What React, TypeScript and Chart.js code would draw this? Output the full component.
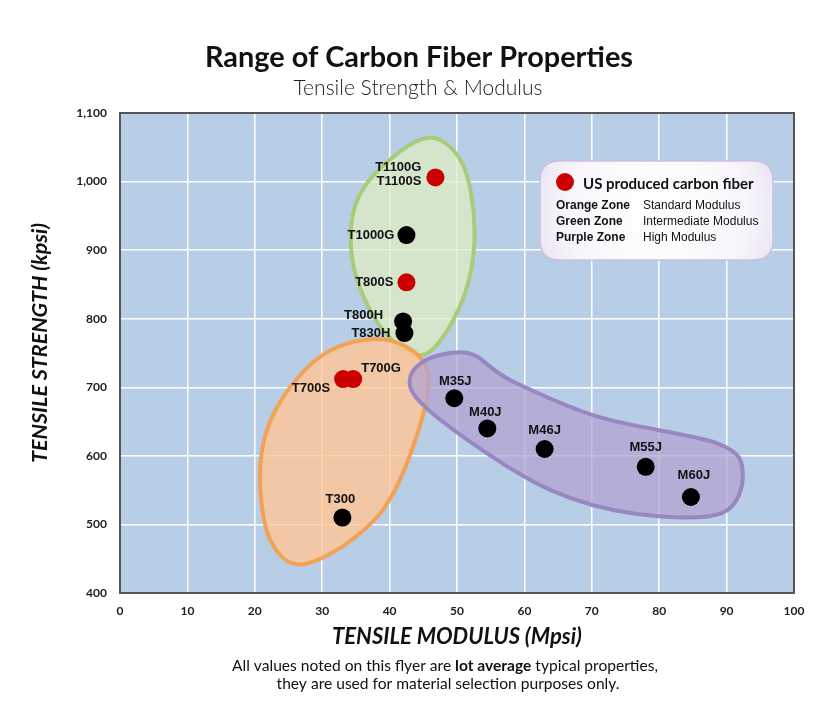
import React, { useEffect, useRef } from 'react';
import { Chart, registerables } from 'chart.js';

Chart.register(...registerables);

// ---- data ----
const fiberNames = ['T1100G\nT1100S', 'T1000G', 'T800S', 'T800H', 'T830H', 'T700S', 'T700G', 'T300', 'M35J', 'M40J', 'M46J', 'M55J', 'M60J'];
const tensileModulus = [46.8, 42.5, 42.5, 42.0, 42.2, 33.1, 34.6, 33.0, 49.6, 54.5, 63.0, 78.0, 84.7];
const tensileStrength = [1006, 922, 853, 796, 779, 712, 712, 510, 684, 640, 610, 584, 540];
const usProduced = [true, false, true, false, false, true, true, false, false, false, false, false, false];

const greenZoneX = [44.8, 50.6, 52.6, 50.8, 45.2, 38.8, 34.5, 35.8];
const greenZoneY = [1062, 1030, 929, 827, 748, 786, 885, 985];
const orangeZoneX = [39.0, 45.3, 44.6, 38.6, 27.8, 22.3, 20.8, 23.3, 30.2];
const orangeZoneY = [770, 732, 647, 516, 443, 477, 583, 671, 748];
const purpleZoneX = [44.6, 51.6, 58.0, 71.3, 88.7, 92.4, 89.2, 76.2, 63.9, 51.6, 43.5];
const purpleZoneY = [735, 750, 710, 656, 618, 575, 516, 516, 550, 623, 691];

const legendZones = ['Orange Zone', 'Green Zone', 'Purple Zone'];
const legendDescriptions = ['Standard Modulus', 'Intermediate Modulus', 'High Modulus'];

const titleText = 'Range of Carbon Fiber Properties';
const subtitleText = 'Tensile Strength & Modulus';
const xTitle = 'TENSILE MODULUS (Mpsi)';
const yTitle = 'TENSILE STRENGTH (kpsi)';

// ---- label placement (style, pixel offsets from the point) ----
const labelPlacement: [number, number, CanvasTextAlign][] = [
  [-14, -3, 'right'],
  [-12, 0, 'right'],
  [-13, 0, 'right'],
  [-20, -6, 'right'],
  [-14, 0, 'right'],
  [-13, 9, 'right'],
  [8, -11, 'left'],
  [-2, -18, 'center'],
  [1, -17, 'center'],
  [-2, -16, 'center'],
  [0, -19, 'center'],
  [0, -19, 'center'],
  [3, -22, 'center'],
];

const BG = '#b8cee6';

function fitFont(ctx: CanvasRenderingContext2D, text: string, weight: string, family: string, target: number, base: number) {
  ctx.font = `${weight} ${base}px ${family}`;
  const w = ctx.measureText(text).width;
  const size = base * target / w;
  return `${weight} ${size.toFixed(2)}px ${family}`;
}

function drawZone(chart: any, xs: number[], ys: number[], fill: string, stroke: string) {
  const { ctx, scales } = chart;
  const pts = xs.map((v, i) => ({ x: scales.x.getPixelForValue(v), y: scales.y.getPixelForValue(ys[i]) }));
  const n = pts.length;
  ctx.save();
  ctx.beginPath();
  ctx.moveTo(pts[0].x, pts[0].y);
  for (let i = 0; i < n; i++) {
    const p0 = pts[(i - 1 + n) % n], p1 = pts[i], p2 = pts[(i + 1) % n], p3 = pts[(i + 2) % n];
    ctx.bezierCurveTo(
      p1.x + (p2.x - p0.x) / 6, p1.y + (p2.y - p0.y) / 6,
      p2.x - (p3.x - p1.x) / 6, p2.y - (p3.y - p1.y) / 6,
      p2.x, p2.y
    );
  }
  ctx.closePath();
  ctx.fillStyle = fill;
  ctx.fill();
  ctx.lineWidth = 4;
  ctx.strokeStyle = stroke;
  ctx.stroke();
  ctx.restore();
}

function roundRect(ctx: CanvasRenderingContext2D, x: number, y: number, w: number, h: number, r: number) {
  ctx.beginPath();
  ctx.moveTo(x + r, y);
  ctx.lineTo(x + w - r, y);
  ctx.quadraticCurveTo(x + w, y, x + w, y + r);
  ctx.lineTo(x + w, y + h - r);
  ctx.quadraticCurveTo(x + w, y + h, x + w - r, y + h);
  ctx.lineTo(x + r, y + h);
  ctx.quadraticCurveTo(x, y + h, x, y + h - r);
  ctx.lineTo(x, y + r);
  ctx.quadraticCurveTo(x, y, x + r, y);
  ctx.closePath();
}

const decorPlugin = {
  id: 'decor',
  beforeDraw(chart: any) {
    const { ctx, chartArea: a } = chart;
    ctx.save();
    ctx.fillStyle = BG;
    ctx.fillRect(a.left, a.top, a.right - a.left, a.bottom - a.top);
    // titles
    ctx.fillStyle = '#111';
    ctx.textAlign = 'center';
    ctx.textBaseline = 'alphabetic';
    ctx.font = fitFont(ctx, titleText, 'bold', 'Lato', 428, 26);
    ctx.fillText(titleText, 419, 67);
    ctx.fillStyle = '#222';
    ctx.font = fitFont(ctx, subtitleText, '300', 'Lato', 249, 20);
    ctx.fillText(subtitleText, 418, 95);
    // y axis title
    ctx.save();
    ctx.translate(40, 343);
    ctx.rotate(-Math.PI / 2);
    ctx.textBaseline = 'middle';
    ctx.fillStyle = '#111';
    ctx.font = fitFont(ctx, yTitle, 'italic bold', 'Lato', 240, 20);
    ctx.fillText(yTitle, 0, 0);
    ctx.restore();
    // footnote
    const line1 = [
      ['All values noted on this flyer are ', 'normal'],
      ['lot average', 'bold'],
      [' typical properties,', 'normal'],
    ];
    const baseSize = 15;
    let total = 0;
    line1.forEach(([t, w]) => {
      ctx.font = `${w} ${baseSize}px Lato`;
      total += ctx.measureText(t).width;
    });
    const fs = baseSize * 426 / total;
    let x = 445 - 426 / 2;
    ctx.textAlign = 'left';
    ctx.fillStyle = '#111';
    line1.forEach(([t, w]) => {
      ctx.font = `${w} ${fs.toFixed(2)}px Lato`;
      ctx.fillText(t, x, 671);
      x += ctx.measureText(t).width;
    });
    ctx.textAlign = 'center';
    ctx.font = `normal ${fs.toFixed(2)}px Lato`;
    ctx.fillText('they are used for material selection purposes only.', 448, 689);
    ctx.restore();
  },
  beforeDatasetsDraw(chart: any) {
    drawZone(chart, greenZoneX, greenZoneY, 'rgba(222,236,195,0.75)', 'rgba(165,203,115,0.95)');
    drawZone(chart, orangeZoneX, orangeZoneY, 'rgba(255,198,149,0.8)', 'rgba(242,160,80,0.95)');
    drawZone(chart, purpleZoneX, purpleZoneY, 'rgba(179,163,210,0.75)', 'rgba(150,132,192,0.95)');
  },
  afterDatasetsDraw(chart: any) {
    const { ctx, chartArea: a } = chart;
    const meta = chart.getDatasetMeta(0);
    ctx.save();
    ctx.fillStyle = '#111';
    ctx.font = 'bold 13px "Liberation Sans", Arial, sans-serif';
    ctx.textBaseline = 'middle';
    meta.data.forEach((el: any, i: number) => {
      const [dx, dy, align] = labelPlacement[i];
      const lines = fiberNames[i].split('\n');
      ctx.textAlign = align;
      const lh = 14;
      const y0 = el.y + dy - ((lines.length - 1) * lh) / 2;
      lines.forEach((ln, k) => ctx.fillText(ln, el.x + dx, y0 + k * lh));
    });
    // frame
    ctx.strokeStyle = '#555';
    ctx.lineWidth = 2;
    ctx.strokeRect(a.left, a.top, a.right - a.left, a.bottom - a.top);
    ctx.restore();
  },
  afterDraw(chart: any) {
    const { ctx, chartArea: a } = chart;
    const bx = a.left + 420, by = a.top + 48, bw = 233, bh = 99;
    ctx.save();
    roundRect(ctx, bx, by, bw, bh, 20);
    const g = ctx.createRadialGradient(bx + bw / 2, by + bh / 2, 10, bx + bw / 2, by + bh / 2, bw * 0.6);
    g.addColorStop(0, '#ffffff');
    g.addColorStop(0.6, '#f8f6fb');
    g.addColorStop(1, '#e6dff0');
    ctx.fillStyle = g;
    ctx.fill();
    ctx.lineWidth = 1.5;
    ctx.strokeStyle = '#cdbfe0';
    ctx.stroke();
    // red marker
    ctx.beginPath();
    ctx.arc(bx + 25, by + 21, 9, 0, Math.PI * 2);
    ctx.fillStyle = '#cc0000';
    ctx.fill();
    ctx.fillStyle = '#111';
    ctx.textBaseline = 'middle';
    ctx.textAlign = 'left';
    ctx.font = 'bold 15px Lato';
    ctx.fillText('US produced carbon fiber', bx + 43, by + 23);
    legendZones.forEach((z, i) => {
      const yy = by + 45 + i * 16;
      ctx.font = 'bold 12px "Liberation Sans", Arial, sans-serif';
      ctx.fillText(z, bx + 16, yy);
      ctx.font = 'normal 12px "Liberation Sans", Arial, sans-serif';
      ctx.fillText(legendDescriptions[i], bx + 103, yy);
    });
    ctx.restore();
  },
};

export default function App() {
  const ref = useRef<HTMLCanvasElement>(null);
  useEffect(() => {
    if (!ref.current) return;
    const chart = new Chart(ref.current, {
      type: 'scatter',
      data: {
        datasets: [
          {
            data: tensileModulus.map((m, i) => ({ x: m, y: tensileStrength[i] })),
            pointRadius: 9,
            pointHoverRadius: 9,
            pointBorderWidth: 0,
            pointBackgroundColor: usProduced.map((u) => (u ? '#cc0000' : '#000000')),
            pointBorderColor: usProduced.map((u) => (u ? '#cc0000' : '#000000')),
          },
        ],
      },
      options: {
        responsive: false,
        animation: false,
        layout: { padding: { left: 0, right: 35, top: 113, bottom: 67 } },
        plugins: { legend: { display: false }, tooltip: { enabled: false }, title: { display: false } },
        scales: {
          x: {
            type: 'linear',
            min: 0,
            max: 100,
            afterFit: (s: any) => { s.height = 60; },
            ticks: { stepSize: 10, padding: 11, color: '#222', font: { family: 'Lato', weight: 'bold', size: 12 } },
            grid: { color: '#ffffff', lineWidth: 1.5, drawTicks: false },
            border: { display: false },
            title: { display: true, text: xTitle, color: '#111', padding: { top: 0, bottom: 3 }, font: { family: 'Lato', weight: 'bold', style: 'italic', size: 22 } },
          },
          y: {
            type: 'linear',
            min: 400,
            max: 1100,
            afterFit: (s: any) => { s.width = 120; },
            ticks: {
              stepSize: 100,
              padding: 13,
              color: '#222',
              font: { family: 'Lato', weight: 'bold', size: 12 },
              callback: (v: any) => Number(v).toLocaleString('en-US'),
            },
            grid: { color: '#ffffff', lineWidth: 1.5, drawTicks: false },
            border: { display: false },
            title: { display: false },
          },
        },
      },
      plugins: [decorPlugin],
    });
    return () => chart.destroy();
  }, []);
  return (
    <div style={{ position: 'absolute', left: 0, top: 0, width: 829, height: 720, background: '#fff' }}>
      <canvas ref={ref} width={829} height={720} />
    </div>
  );
}
